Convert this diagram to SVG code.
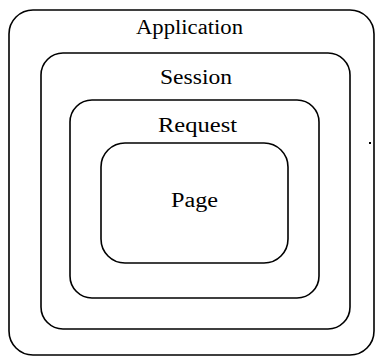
<svg xmlns="http://www.w3.org/2000/svg" width="376" height="358" viewBox="0 0 376 358">
  <style>
    .box { fill: none; stroke: #000; stroke-width: 1.6; }
    .lbl { font-family: "Liberation Serif", "DejaVu Serif", serif; font-size: 20px; fill: #000; text-anchor: start; }
  </style>
  <rect width="376" height="358" fill="#fff"/>
  <g id="application">
    <rect class="box" x="9" y="10" width="365" height="345" rx="24" ry="24"/>
    <text class="lbl" x="136" y="34" textLength="107" lengthAdjust="spacingAndGlyphs">Application</text>
  </g>
  <g id="session">
    <rect class="box" x="41" y="53" width="309" height="276" rx="22" ry="22"/>
    <text class="lbl" x="160" y="84" textLength="72" lengthAdjust="spacingAndGlyphs">Session</text>
  </g>
  <g id="request">
    <rect class="box" x="70" y="100" width="249" height="198" rx="22" ry="22"/>
    <text class="lbl" x="158" y="132" textLength="79" lengthAdjust="spacingAndGlyphs">Request</text>
  </g>
  <g id="page">
    <rect class="box" x="101" y="143" width="187" height="120" rx="24" ry="24"/>
    <text class="lbl" x="171" y="207" textLength="47" lengthAdjust="spacingAndGlyphs">Page</text>
  </g>
  <rect x="369" y="142" width="2" height="2" fill="#000"/>
</svg>
